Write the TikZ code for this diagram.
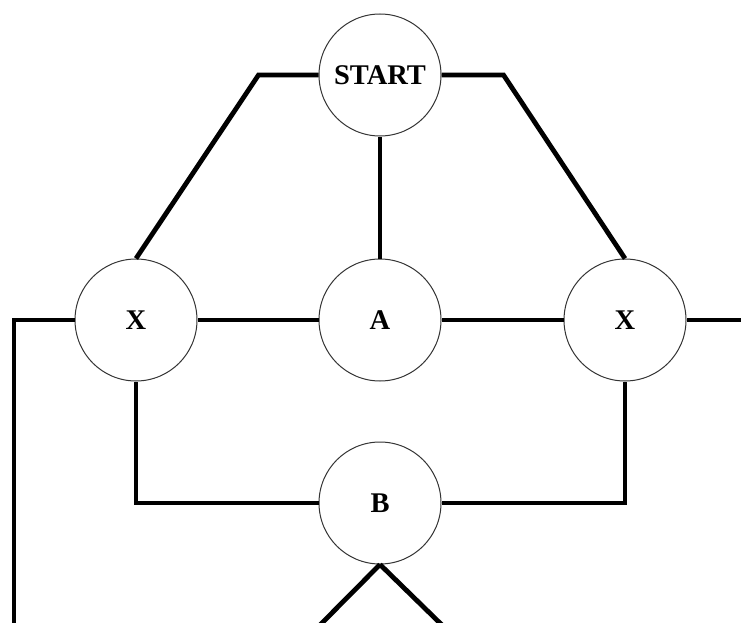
\documentclass[tikz,border=0pt]{standalone}
\usepackage{fontspec}
\setmainfont{Liberation Serif}

\begin{document}
\begin{tikzpicture}[x=1pt,y=-1pt,
	state/.style={circle,draw=black!80,line width=1pt,fill=white,minimum size=122pt,inner sep=0pt,font=\fontsize{28.5}{31}\selectfont\bfseries},
	link/.style={line width=4.8pt}]
	\useasboundingbox (0,0) rectangle (741,623);
	% states
	\node[state] (start) at (380,75) {START};
	\node[state] (xl) at (136,320) {X};
	\node[state] (a) at (380,320) {A};
	\node[state] (xr) at (625,320) {X};
	\node[state] (b) at (380,503) {B};
	% free ends at the border
	\coordinate (leftend) at (14,630);
	\coordinate (rightend) at (745,320);
	\coordinate (bl) at (318,627);
	\coordinate (br) at (444,627);
	% links
	\draw[link] (start.west) -- ++(-60,0) -- (xl.north);
	\draw[link] (start.east) -- ++(62,0) -- (xr.north);
	\draw[link] (start) -- (a);
	\draw[link] (xl) -- (a);
	\draw[link] (a) -- (xr);
	\draw[link] (xl.west) -| (leftend);
	\draw[link] (xr.east) -- (rightend);
	\draw[link] (xl.south) |- (b.west);
	\draw[link] (xr.south) |- (b.east);
	\draw[link] (b.south) -- (bl);
	\draw[link] (b.south) -- (br);
\end{tikzpicture}
\end{document}
